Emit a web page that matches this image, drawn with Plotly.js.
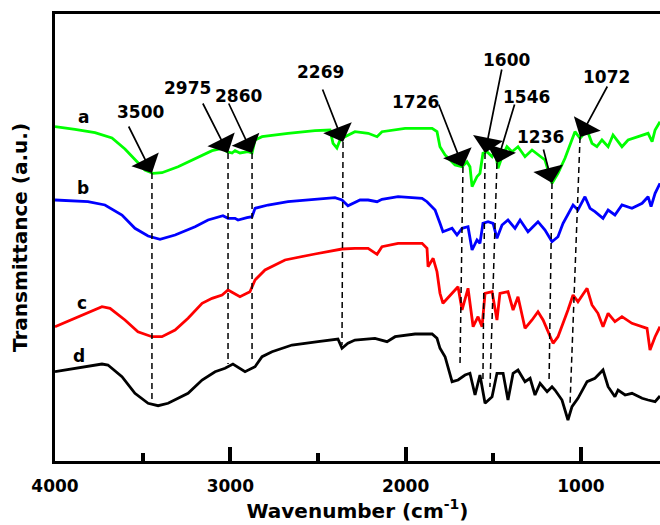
<!DOCTYPE html>
<html>
<head>
<meta charset="utf-8">
<script src="https://cdn.plot.ly/plotly-3.0.1.min.js"></script>
<style>html,body{margin:0;padding:0;background:#fff;}#chart{width:660px;height:525px;}</style>
</head>
<body>
<div id="chart"></div>
<script>
// Wavenumber (cm-1) and transmittance (a.u.)
const wnA = [4000,3886,3772,3675,3601,3544,3487,3441,3390,3298,3201,3104,3047,3019,2990,2973,2945,2899,2876,2859,2819,2671,2517,2431,2414,2392,2374,2346,2289,2214,2163,2135,2003,1849,1821,1804,1775,1718,1678,1650,1633,1621,1593,1576,1559,1536,1507,1490,1473,1450,1422,1393,1359,1319,1279,1245,1205,1165,1131,1091,1051,1034,1005,965,937,909,880,845,817,766,731,674,617,594,577,549];
const trA = [334.3,331.7,328.3,323,312,301,291,287.7,288.3,294.3,302.7,310.3,312.7,309.3,308,310.3,308,309.3,308,321,324.3,327.7,330.3,331,317.7,313,321,324.3,329.3,327.7,324.3,329.3,332.7,332.7,329.3,314.3,306,296,294.3,299.3,294.3,274.3,284.3,287.7,307.7,309.3,304.3,311,292.7,304.3,314.3,309.3,314.3,304.3,311,306,301,277.7,287.7,302.7,321,329.3,322.7,331,317.7,314.3,321,314.3,326,314.3,321,324.3,327.7,319.3,331,339.3];

const wnB = [4000,3812,3715,3618,3544,3469,3401,3315,3201,3127,3042,3013,2973,2956,2905,2876,2859,2785,2671,2517,2403,2363,2329,2260,2214,2163,2135,2043,1906,1878,1832,1804,1787,1735,1707,1678,1644,1621,1593,1576,1559,1530,1501,1479,1450,1416,1376,1347,1302,1245,1205,1165,1131,1102,1045,1017,977,948,920,874,845,806,766,709,651,617,600,577,549];
const trB = [261,259.3,256,246,232.7,225,221.7,226,234.3,241,245.3,242.7,242.7,241,243.3,244.3,252.7,256,259.3,262,263.3,261,255.3,261,261,259.3,261.7,264.3,262.7,259.3,251,237.7,229.3,232.7,226,232.7,234.3,211,221,217.7,237.7,239.3,237.7,222.7,236,241,232.7,241,229.3,239.3,231,219.3,224.3,237.7,256,251,264.3,252.7,249.3,242.7,251,246,256,252.7,257.7,264.3,254.3,267.7,277.7];

const wnC = [4000,3869,3732,3686,3601,3527,3447,3390,3315,3241,3161,3104,3047,3013,2945,2888,2859,2802,2688,2517,2363,2289,2214,2163,2135,2043,1906,1878,1872,1843,1821,1804,1787,1735,1701,1678,1644,1615,1587,1564,1547,1507,1479,1462,1416,1387,1359,1319,1279,1245,1216,1159,1131,1074,1045,1017,965,937,903,874,845,806,766,709,651,623,606,577,549];
const trC = [134.3,144.3,154.3,152.7,141,129.3,124.3,124.3,131,142.7,157.7,162.7,166,171,164.3,169.3,181,191,201,207,212,212.7,212.7,206.7,214.3,217.7,217.7,212.7,194.3,202.7,189.3,167.7,157.7,167.7,174.3,151,172.7,134.3,144.3,134.3,167.7,169.3,141,167.7,169.3,151,164.3,132.7,141,149.3,141,117.7,124.3,151,166,159.3,172.7,156,147.7,134.3,147.7,139.3,144.3,137.7,134.3,132.7,111,124.3,134.3];

const wnD = [4000,3869,3732,3698,3618,3544,3469,3412,3355,3241,3161,3087,3030,2985,2916,2859,2819,2762,2648,2500,2386,2363,2329,2289,2175,2106,2060,1946,1849,1821,1804,1775,1735,1701,1661,1633,1604,1576,1547,1507,1479,1444,1416,1387,1359,1319,1290,1262,1233,1193,1165,1148,1108,1074,1051,1017,965,920,874,845,806,788,748,709,651,617,577,549];
const trD = [89.3,92.7,97,96,84.3,67.7,57.7,55.3,57.7,67.7,81,89.3,92.7,97,89.3,94.3,104.3,109.3,116,119.3,122,112.7,117.7,121,122.7,119.3,124.3,127,127,122.7,112.7,104.3,79.3,81,86,87.7,66,86,57.7,64.3,87.7,87.7,61,87.7,91,79.3,82.7,66,77.7,69.3,74.3,71,61,41,54.3,62.7,79.3,82.7,91,74.3,64.3,71,66,67.7,62.7,61,59.3,65];

const seriesNames = ['a','b','c','d'];
const seriesColors = ['#00ff00','#0000ff','#ff0000','#000000'];
const seriesLabelX = [3840,3840,3846,3863];
const seriesLabelY = [344,273,158,105];

// Peak markers
const peakLabels = ['3500','2975','2860','2269','1726','1600','1546','1236','1072'];
const peakTipX  = [3447,3013,2876,2357,1673,1547,1479,1165,1005];
const peakTipY  = [288,308,308,319,294,308,298,278,324];
const peakTailX = [3584,3161,3013,2477,1815,1450,1376,1216,845];
const peakTailY = [336,359,359,373,358,393,358,313,376];
const peakTextX = [3515,3247,2956,2488,1946,1427,1313,1228,857];
const peakTextY = [349,373,365,389,359,401,364,324,384];
const dropBotX  = [3447,3013,2876,2363,1690,1559,1519,1182,1062];
const dropBotY  = [61,97,101,116,94,81,74,78,58];

const xTicks = [4000,3000,2000,1000];

const wnAll = [wnA, wnB, wnC, wnD];
const trAll = [trA, trB, trC, trD];

const traces = wnAll.map((wn, i) => ({
  x: wn, y: trAll[i], type: 'scatter', mode: 'lines',
  line: {color: seriesColors[i], width: 2.8}, name: seriesNames[i], showlegend: false, hoverinfo: 'skip'
}));

const FONT = 'DejaVu Sans, Liberation Sans, Arial, sans-serif';
const annotations = [];
peakLabels.forEach((lab, i) => {
  annotations.push({
    x: peakTipX[i], y: peakTipY[i], xref: 'x', yref: 'y',
    ax: peakTailX[i], ay: peakTailY[i], axref: 'x', ayref: 'y',
    text: '', showarrow: true, arrowhead: 1, arrowsize: 3, arrowwidth: 1.7, arrowcolor: '#000', standoff: 0
  });
  annotations.push({
    x: peakTextX[i], y: peakTextY[i], xref: 'x', yref: 'y', showarrow: false,
    text: '<b>' + lab + '</b>', font: {family: FONT, size: 17, color: '#000'}
  });
});
seriesNames.forEach((n, i) => {
  annotations.push({
    x: seriesLabelX[i], y: seriesLabelY[i], xref: 'x', yref: 'y', showarrow: false,
    text: '<b>' + n + '</b>', font: {family: FONT, size: 17, color: '#000'}
  });
});

const shapes = peakLabels.map((lab, i) => ({
  type: 'line', xref: 'x', yref: 'y',
  x0: peakTipX[i], y0: peakTipY[i], x1: dropBotX[i], y1: dropBotY[i],
  line: {color: '#000', width: 1.5, dash: '6px,4px'}
}));

const layout = {
  width: 660, height: 525,
  margin: {l: 55, r: 0, t: 14, b: 64},
  paper_bgcolor: '#fff', plot_bgcolor: '#fff',
  showlegend: false,
  font: {family: FONT, color: '#000'},
  xaxis: {
    range: [4000, 549], autorange: false,
    tickvals: xTicks, ticktext: xTicks.map(String),
    ticks: 'inside', ticklen: 14, tickwidth: 4, tickcolor: '#000',
    ticklabelstandoff: 8,
    minor: {dtick: 500, tick0: 0, ticks: 'inside', ticklen: 8, tickwidth: 4, tickcolor: '#000'},
    showline: true, linewidth: 3, linecolor: '#000', mirror: true,
    showgrid: false, zeroline: false,
    tickfont: {family: FONT, size: 17, color: '#000', weight: 'bold'},
    title: {text: '<b>Wavenumber (cm<sup>-1</sup>)</b>', font: {family: FONT, size: 20, color: '#000'}, standoff: 4}
  },
  yaxis: {
    range: [0, 447], autorange: false,
    showticklabels: false, ticks: '', showgrid: false, zeroline: false,
    showline: true, linewidth: 3, linecolor: '#000',
    title: {text: '<b>Transmittance (a.u.)</b>', font: {family: FONT, size: 20, color: '#000'}, standoff: 20}
  },
  annotations: annotations,
  shapes: shapes
};

Plotly.newPlot('chart', traces, layout, {staticPlot: true, displayModeBar: false});
</script>
</body>
</html>
